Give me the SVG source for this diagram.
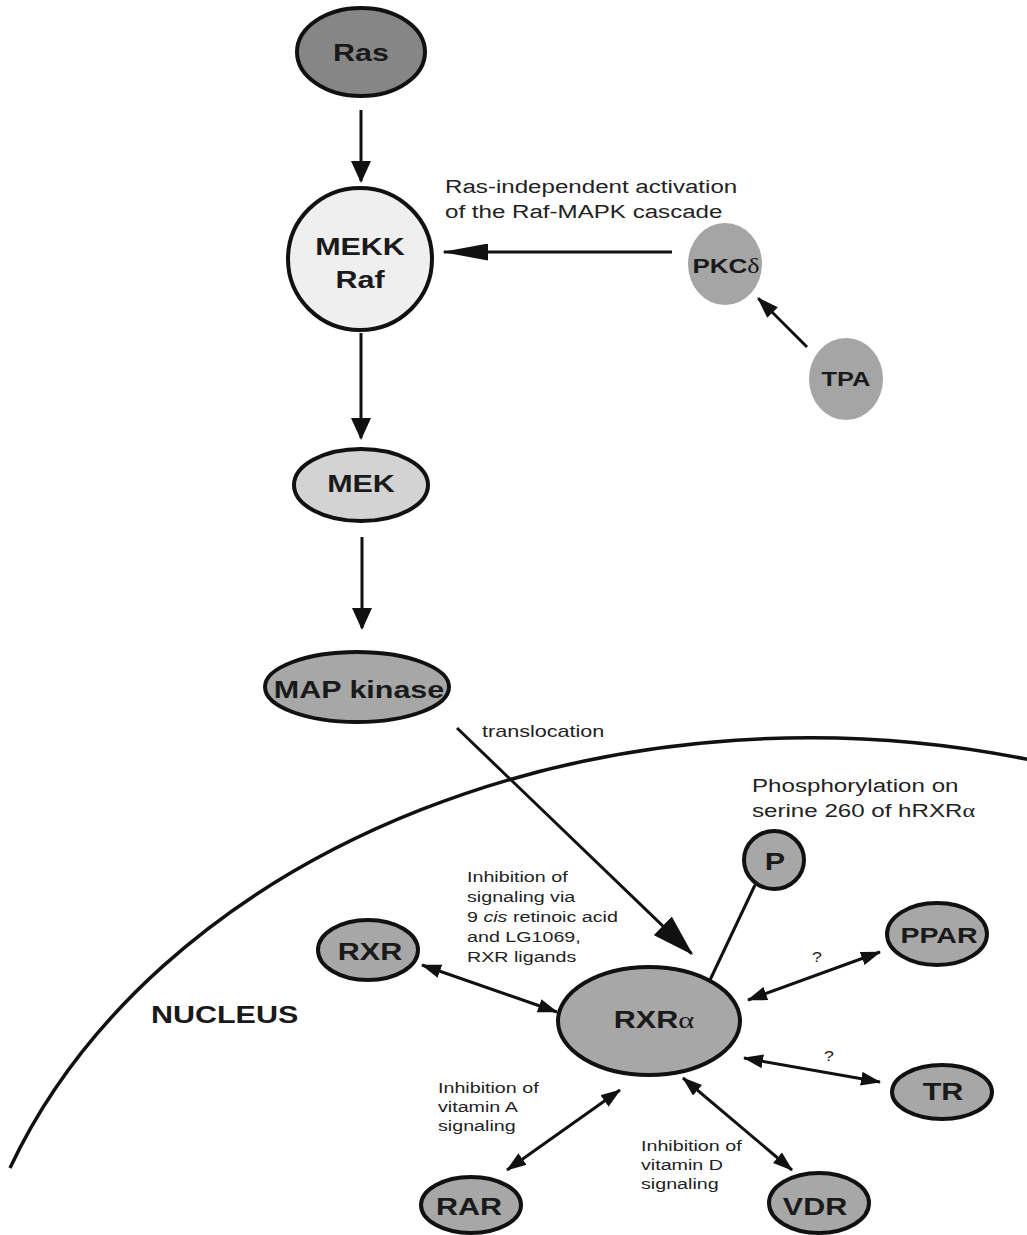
<svg xmlns="http://www.w3.org/2000/svg" width="1027" height="1235" viewBox="0 0 1027 1235">
<style>
.node{stroke:#111;stroke-width:4}
.dark{fill:#868686}
.light{fill:#efefef}
.mid{fill:#d3d3d3}
.gray{fill:#a7a7a7}
.soft{fill:#a5a5a5;stroke:none}
.lbl{font-family:"Liberation Sans",Arial,sans-serif;font-weight:bold;font-size:24px;fill:#1a1a1a;text-anchor:middle}
.txt{font-family:"Liberation Sans",Arial,sans-serif;fill:#222}
.t19{font-size:19px}
.t17{font-size:17px}
.t15{font-size:15.5px}
.tq{font-size:14px;text-anchor:middle}
.greek{font-family:"Liberation Serif","DejaVu Serif",serif;font-weight:normal}
.edge{fill:none;stroke:#111;stroke-width:3}
.dbl{marker-start:url(#hd);marker-end:url(#hd)}
.membrane{fill:none;stroke:#111;stroke-width:3.5}
</style>
<defs>
<marker id="hv" markerUnits="userSpaceOnUse" markerWidth="22" markerHeight="20" refX="20" refY="10" orient="auto"><path d="M0,0 L22,10 L0,20 z" fill="#111"/></marker>
<marker id="hh" markerUnits="userSpaceOnUse" markerWidth="46" markerHeight="17" refX="44" refY="8.5" orient="auto"><path d="M0,0 L46,8.5 L0,17 z" fill="#111"/></marker>
<marker id="hs" markerUnits="userSpaceOnUse" markerWidth="22" markerHeight="15" refX="20" refY="7.5" orient="auto"><path d="M0,0 L22,7.5 L0,15 z" fill="#111"/></marker>
<marker id="ht" markerUnits="userSpaceOnUse" markerWidth="42" markerHeight="26" refX="40" refY="13" orient="auto"><path d="M0,0 L42,13 L0,26 z" fill="#111"/></marker>
<marker id="hd" markerUnits="userSpaceOnUse" markerWidth="20" markerHeight="14" refX="19" refY="7" orient="auto-start-reverse"><path d="M0,0 L20,7 L0,14 z" fill="#111"/></marker>
</defs>
<rect width="1027" height="1235" fill="#ffffff"/>

<path id="nucleus-membrane" class="membrane" d="M 10 1168 A 850 650 0 0 1 1040 762"/>

<g id="connectors">
<line class="edge" x1="361" y1="110" x2="361" y2="181" marker-end="url(#hv)"/>
<line class="edge" x1="361" y1="333" x2="361" y2="438" marker-end="url(#hv)"/>
<line class="edge" x1="362" y1="537" x2="362" y2="628" marker-end="url(#hv)"/>
<line class="edge" x1="672" y1="252" x2="444" y2="252" marker-end="url(#hh)"/>
<line class="edge" x1="807" y1="347" x2="758.4" y2="298.4" marker-end="url(#hs)"/>
<line class="edge" x1="457" y1="728" x2="691.6" y2="953.6" marker-end="url(#ht)"/>
<line class="edge" x1="755" y1="885" x2="710" y2="980"/>
<line class="edge dbl" x1="422" y1="965" x2="557" y2="1012"/>
<line class="edge dbl" x1="880" y1="952" x2="748" y2="1000"/>
<line class="edge dbl" x1="744" y1="1058" x2="880" y2="1082"/>
<line class="edge dbl" x1="507" y1="1170" x2="620" y2="1090"/>
<line class="edge dbl" x1="683" y1="1078" x2="792" y2="1170"/>
</g>

<g id="labels">
<text class="txt t19" transform="matrix(1.27 0 0 1 445 0)"><tspan x="0" y="193">Ras-independent activation</tspan><tspan x="0" y="218">of the Raf-MAPK cascade</tspan></text>
<text class="txt t17" transform="matrix(1.27 0 0 1 482 737)">translocation</text>
<text class="txt t19" transform="matrix(1.27 0 0 1 752 0)"><tspan x="0" y="792">Phosphorylation on</tspan><tspan x="0" y="817">serine 260 of hRXR<tspan class="greek">α</tspan></tspan></text>
<text class="txt t15" transform="matrix(1.27 0 0 1 467 0)"><tspan x="0" y="882">Inhibition of</tspan><tspan x="0" y="902">signaling via</tspan><tspan x="0" y="922">9 <tspan font-style="italic">cis</tspan> retinoic acid</tspan><tspan x="0" y="942">and LG1069,</tspan><tspan x="0" y="962">RXR ligands</tspan></text>
<text class="txt t15" transform="matrix(1.27 0 0 1 438 0)"><tspan x="0" y="1093">Inhibition of</tspan><tspan x="0" y="1112">vitamin A</tspan><tspan x="0" y="1131">signaling</tspan></text>
<text class="txt t15" transform="matrix(1.27 0 0 1 641 0)"><tspan x="0" y="1151">Inhibition of</tspan><tspan x="0" y="1170">vitamin D</tspan><tspan x="0" y="1189">signaling</tspan></text>
<text class="txt tq" transform="matrix(1.27 0 0 1 817 962)">?</text>
<text class="txt tq" transform="matrix(1.27 0 0 1 829 1061)">?</text>
<text class="lbl" style="text-anchor:start" transform="matrix(1.27 0 0 1 151 1023)">NUCLEUS</text>
</g>

<g id="node-ras"><ellipse class="node dark" cx="361" cy="52" rx="64" ry="44"/><text class="lbl" transform="matrix(1.27 0 0 1 361 61)">Ras</text></g>
<g id="node-mekk-raf"><ellipse class="node light" cx="360" cy="259" rx="72" ry="71"/><text class="lbl" transform="matrix(1.27 0 0 1 360 0)"><tspan x="0" y="255">MEKK</tspan><tspan x="0" y="288">Raf</tspan></text></g>
<g id="node-pkc"><ellipse class="soft" cx="725" cy="264" rx="37" ry="41"/><text class="lbl" style="font-size:20.5px" transform="matrix(1.27 0 0 1 726 273)">PKC<tspan class="greek">δ</tspan></text></g>
<g id="node-tpa"><ellipse class="soft" cx="846" cy="379" rx="37" ry="41"/><text class="lbl" style="font-size:20px" transform="matrix(1.27 0 0 1 846 386)">TPA</text></g>
<g id="node-mek"><ellipse class="node mid" cx="361" cy="485" rx="67" ry="36"/><text class="lbl" transform="matrix(1.27 0 0 1 361 492)">MEK</text></g>
<g id="node-map-kinase"><ellipse class="node gray" cx="357" cy="687" rx="92" ry="35"/><text class="lbl" transform="matrix(1.27 0 0 1 359 698)">MAP kinase</text></g>
<g id="node-p"><ellipse class="node gray" cx="774" cy="860" rx="30" ry="29"/><text class="lbl" transform="matrix(1.27 0 0 1 775 870)">P</text></g>
<g id="node-rxr"><ellipse class="node gray" cx="368" cy="950" rx="50" ry="30"/><text class="lbl" transform="matrix(1.27 0 0 1 370 960)">RXR</text></g>
<g id="node-rxra"><ellipse class="node gray" cx="649" cy="1021" rx="91" ry="54"/><text class="lbl" transform="matrix(1.27 0 0 1 654 1028)">RXR<tspan class="greek">α</tspan></text></g>
<g id="node-ppar"><ellipse class="node gray" cx="937" cy="934" rx="50" ry="31"/><text class="lbl" style="font-size:22.5px" transform="matrix(1.27 0 0 1 939 943)">PPAR</text></g>
<g id="node-tr"><ellipse class="node gray" cx="942" cy="1092" rx="50" ry="27"/><text class="lbl" transform="matrix(1.27 0 0 1 943 1100)">TR</text></g>
<g id="node-rar"><ellipse class="node gray" cx="471" cy="1205" rx="50" ry="28"/><text class="lbl" transform="matrix(1.27 0 0 1 469 1215)">RAR</text></g>
<g id="node-vdr"><ellipse class="node gray" cx="819" cy="1203" rx="50" ry="30"/><text class="lbl" transform="matrix(1.27 0 0 1 815 1215)">VDR</text></g>
</svg>
